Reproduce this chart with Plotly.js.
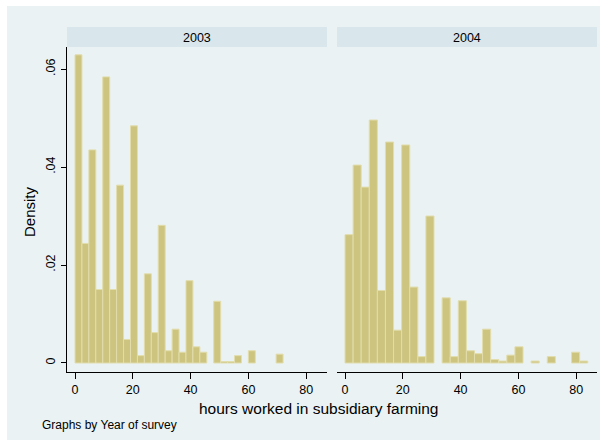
<!DOCTYPE html>
<html>
<head>
<meta charset="utf-8">
<script src="https://cdn.plot.ly/plotly-3.0.1.min.js"></script>
<style>
  html, body { margin: 0; padding: 0; background: #ffffff; }
  #chart { width: 608px; height: 447px; }
</style>
</head>
<body>
<div id="chart"></div>
<script>
// Histogram of hours worked in subsidiary farming, one panel per survey year
const years = ['2003', '2004'];
const binStart = [0, 0];
const binWidth = [2.4, 2.8];
const density2003 = [0.0629, 0.0244, 0.0435, 0.0150, 0.0584, 0.0150, 0.0363, 0.0048, 0.0484, 0.0015,
                     0.0182, 0.0062, 0.0281, 0.0025, 0.0069, 0.0022, 0.0168, 0.0033, 0.0022, 0,
                     0.0126, 0.0003, 0.0003, 0.0015, 0, 0.0025, 0, 0, 0, 0.0018];
const density2004 = [0.0262, 0.0404, 0.0359, 0.0496, 0.0148, 0.0451, 0.0067, 0.0445, 0.0155, 0.0013,
                     0.0300, 0, 0.0133, 0.0013, 0.0127, 0.0025, 0.0019, 0.0069, 0.0007, 0.0004,
                     0.0016, 0.0033, 0, 0.0004, 0, 0.0013, 0, 0, 0.0022, 0.0004];
const xTicks = [0, 20, 40, 60, 80];
const yTicks = [0, 0.02, 0.04, 0.06];
const yTickText = ['0', '.02', '.04', '.06'];
const xTitle = 'hours worked in subsidiary farming';
const yTitle = 'Density';
const note = 'Graphs by Year of survey';

const W = 608, H = 447;
const px = v => v / W;           // pixel column -> paper x
const py = v => 1 - v / H;       // pixel row -> paper y

const densities = [density2003, density2004];
const barFill = '#CCC47F';
const barEdge = '#E2DDAC';
const font = 'Liberation Sans, Arial, sans-serif';

// empty bins are left out so no outline is drawn for them
const traces = densities.map((d, k) => ({
  type: 'bar',
  x: d.map((_, i) => binStart[k] + i * binWidth[k]),
  y: d.map(v => (v > 0 ? v : null)),
  width: d.map(() => binWidth[k]),
  offset: 0,
  xaxis: k === 0 ? 'x' : 'x2',
  yaxis: k === 0 ? 'y' : 'y2',
  marker: { color: barFill, line: { color: barEdge, width: 1 } },
  hoverinfo: 'x+y',
  showlegend: false
}));

const xRange = [-2.77, 87.2];
const yRange = [-0.00184, 0.0645];
const plotTop = 47, plotBottom = 372;
const panels = [[67, 327], [337, 597]];

const xAxisBase = {
  range: xRange,
  tickvals: xTicks,
  ticks: 'outside',
  ticklen: 6,
  tickwidth: 1,
  tickcolor: '#000',
  showline: true,
  linecolor: '#000',
  linewidth: 1,
  showgrid: false,
  zeroline: false,
  tickfont: { family: font, size: 12.5, color: '#000' },
  fixedrange: true
};

const yAxisBase = {
  range: yRange,
  domain: [py(plotBottom), py(plotTop)],
  tickvals: yTicks,
  showgrid: true,
  gridcolor: '#EAF2F3',
  gridwidth: 1,
  zeroline: false,
  fixedrange: true
};

const layout = {
  width: W,
  height: H,
  margin: { l: 0, r: 0, t: 0, b: 0, pad: 0 },
  paper_bgcolor: '#ffffff',
  plot_bgcolor: '#ffffff',
  barmode: 'overlay',
  xaxis: Object.assign({}, xAxisBase, { domain: [px(panels[0][0]), px(panels[0][1])], anchor: 'y' }),
  xaxis2: Object.assign({}, xAxisBase, { domain: [px(panels[1][0]), px(panels[1][1])], anchor: 'y2' }),
  yaxis: Object.assign({}, yAxisBase, {
    anchor: 'x',
    ticktext: yTickText,
    tickangle: -90,
    ticks: 'outside',
    ticklen: 5,
    tickwidth: 1,
    tickcolor: '#000',
    ticklabelstandoff: 1,
    showline: true,
    linecolor: '#000',
    linewidth: 1,
    tickfont: { family: font, size: 12.5, color: '#000' }
  }),
  yaxis2: Object.assign({}, yAxisBase, {
    anchor: 'x2',
    matches: 'y',
    showticklabels: false,
    ticks: '',
    showline: false
  }),
  shapes: [
    // graph region
    { type: 'rect', xref: 'paper', yref: 'paper', layer: 'below',
      x0: px(7), x1: px(600), y0: py(440), y1: py(6),
      fillcolor: '#EAF2F3', line: { width: 0 } },
    // panel headers
    ...panels.map(p => ({ type: 'rect', xref: 'paper', yref: 'paper', layer: 'below',
      x0: px(p[0]), x1: px(p[1]), y0: py(47), y1: py(27),
      fillcolor: '#D9E6EB', line: { width: 0 } }))
  ],
  annotations: [
    ...years.map((yr, k) => ({
      text: yr, xref: 'paper', yref: 'paper',
      x: px((panels[k][0] + panels[k][1]) / 2), y: py(37.5),
      xanchor: 'center', yanchor: 'middle', showarrow: false,
      font: { family: font, size: 12.5, color: '#000' }
    })),
    { text: yTitle, xref: 'paper', yref: 'paper', x: px(29), y: py(212),
      xanchor: 'center', yanchor: 'middle', textangle: -90, showarrow: false,
      font: { family: font, size: 15, color: '#000' } },
    { text: xTitle, xref: 'paper', yref: 'paper', x: px(319.5), y: py(408),
      xanchor: 'center', yanchor: 'middle', showarrow: false,
      font: { family: font, size: 15.5, color: '#000' } },
    { text: note, xref: 'paper', yref: 'paper', x: px(40), y: py(425),
      xanchor: 'left', yanchor: 'middle', showarrow: false,
      font: { family: font, size: 12, color: '#000' } }
  ]
};

Plotly.newPlot('chart', traces, layout, { displayModeBar: false, staticPlot: true });
</script>
</body>
</html>
